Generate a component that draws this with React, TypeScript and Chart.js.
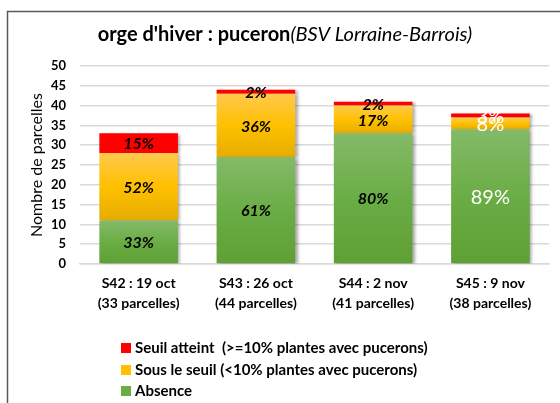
import { useEffect, useRef } from "react";
import { Chart, registerables } from "chart.js";
Chart.register(...registerables);

const categories = [
  ["S42 : 19 oct", "(33 parcelles)"],
  ["S43 : 26 oct", "(44 parcelles)"],
  ["S44 : 2 nov", "(41 parcelles)"],
  ["S45 : 9 nov", "(38 parcelles)"],
];
const absence = [11, 27, 33, 34];
const sousSeuil = [17, 16, 7, 3];
const seuilAtteint = [5, 1, 1, 1];
const absencePct = ["33%", "61%", "80%", "89%"];
const sousPct = ["52%", "36%", "17%", "8%"];
const seuilPct = ["15%", "2%", "2%", "3%"];
const legendLabels = [
  "Seuil atteint  (>=10% plantes avec pucerons)",
  "Sous le seuil (<10% plantes avec pucerons)",
  "Absence",
];
const titleBold = "orge d'hiver : puceron";
const titleItalic = "(BSV Lorraine-Barrois)";
const yTitle = "Nombre de parcelles";
const yMax = 50;
const yStep = 5;

const FONT = "Lato, 'Open Sans', sans-serif";
const WHITE_LABEL_INDEX = 3;

function gradientFill(stops: string[], flat: string) {
  return (ctx: any) => {
    const chart = ctx.chart;
    const ca = chart.chartArea;
    if (!ca || ctx.type !== "data") return flat;
    const yScale = chart.scales.y;
    const dsIndex = ctx.datasetIndex;
    let base = 0;
    for (let d = 0; d < dsIndex; d++) base += chart.data.datasets[d].data[ctx.dataIndex];
    const top = base + chart.data.datasets[dsIndex].data[ctx.dataIndex];
    const y0 = yScale.getPixelForValue(top);
    const y1 = yScale.getPixelForValue(base);
    if (!isFinite(y0) || !isFinite(y1) || y0 === y1) return flat;
    const g = chart.ctx.createLinearGradient(0, y0, 0, y1);
    g.addColorStop(0, stops[0]);
    g.addColorStop(0.5, stops[1]);
    g.addColorStop(1, stops[2]);
    return g;
  };
}

export default function App() {
  const ref = useRef<HTMLCanvasElement | null>(null);
  useEffect(() => {
    document.body.style.margin = "0";
    const canvas = ref.current!;
    const pctSets = [absencePct, sousPct, seuilPct];

    const decor = {
      id: "decor",
      beforeDraw(chart: any) {
        const c = chart.ctx;
        c.save();
        c.fillStyle = "#fff";
        c.fillRect(0, 0, chart.width, chart.height);
        c.strokeStyle = "#595959";
        c.lineWidth = 1.5;
        c.beginPath();
        c.moveTo(7.5, chart.height + 5);
        c.lineTo(7.5, 11.5);
        c.lineTo(chart.width + 5, 11.5);
        c.stroke();
        // title
        c.fillStyle = "#000";
        c.textBaseline = "middle";
        c.font = `bold 20px ${FONT}`;
        const w1 = c.measureText(titleBold).width;
        c.font = `italic 20px ${FONT}`;
        const w2 = c.measureText(titleItalic).width;
        const cx = 285;
        const x = cx - (w1 + w2) / 2;
        c.textAlign = "left";
        c.font = `bold 20px ${FONT}`;
        c.fillText(titleBold, x, 35);
        c.font = `italic 20px ${FONT}`;
        c.fillText(titleItalic, x + w1, 35);
        // y title
        c.save();
        c.translate(37, (chart.chartArea.top + chart.chartArea.bottom) / 2);
        c.rotate(-Math.PI / 2);
        c.textAlign = "center";
        c.font = `16px ${FONT}`;
        c.fillText(yTitle, 0, 0);
        c.restore();
        // legend
        const colors = ["#ff0000", "#ffc000", "#6aad45"];
        const ys = [348, 370, 391];
        c.font = `bold 15px ${FONT}`;
        c.textAlign = "left";
        for (let i = 0; i < 3; i++) {
          c.fillStyle = colors[i];
          c.fillRect(121, ys[i] - 5, 10, 10);
          c.fillStyle = "#000";
          c.fillText(legendLabels[i], 135, ys[i]);
        }
        c.restore();
      },
      beforeDatasetsDraw(chart: any) {
        const c = chart.ctx;
        c.save();
        c.shadowColor = "rgba(0,0,0,0.35)";
        c.shadowOffsetX = 2.5;
        c.shadowOffsetY = 1;
        c.shadowBlur = 3;
      },
      afterDatasetsDraw(chart: any) {
        const c = chart.ctx;
        c.restore();
        c.save();
        c.textAlign = "center";
        c.textBaseline = "middle";
        chart.data.datasets.forEach((ds: any, di: number) => {
          const meta = chart.getDatasetMeta(di);
          meta.data.forEach((el: any, i: number) => {
            const y = (el.y + el.base) / 2;
            if (i === WHITE_LABEL_INDEX) {
              c.fillStyle = "#fff";
              c.font = `20px ${FONT}`;
            } else {
              c.fillStyle = "#000";
              c.font = `italic bold 16px ${FONT}`;
            }
            c.fillText(pctSets[di][i], el.x, y + 1);
          });
        });
        c.restore();
      },
    };

    const chart = new Chart(canvas, {
      type: "bar",
      data: {
        labels: categories,
        datasets: [
          {
            label: legendLabels[2],
            data: absence,
            backgroundColor: gradientFill(["#84ba68", "#6aad45", "#5fa034"], "#6aad45"),
          },
          {
            label: legendLabels[1],
            data: sousSeuil,
            backgroundColor: gradientFill(["#ffc94d", "#ffc000", "#e6ad00"], "#ffc000"),
          },
          {
            label: legendLabels[0],
            data: seuilAtteint,
            backgroundColor: "#ff0000",
          },
        ],
      },
      plugins: [decor],
      options: {
        responsive: false,
        animation: false,
        devicePixelRatio: 1,
        layout: { padding: { left: 30, right: 11, top: 66, bottom: 89 } },
        plugins: {
          legend: { display: false },
          title: { display: false },
          tooltip: { enabled: false },
        },
        datasets: { bar: { categoryPercentage: 1, barPercentage: 0.67 } },
        scales: {
          x: {
            stacked: true,
            grid: { display: false, drawTicks: false },
            border: { display: true, color: "#d9d9d9", width: 1.5 },
            ticks: {
              color: "#000",
              font: { family: FONT, size: 14, weight: "bold", lineHeight: 1.4 },
              padding: 10,
            },
            afterFit: (s: any) => {
              s.height = 50;
            },
          },
          y: {
            stacked: true,
            min: 0,
            max: yMax,
            grid: { color: "#d9d9d9", lineWidth: 1.5, drawTicks: false },
            border: { display: false },
            ticks: {
              stepSize: yStep,
              color: "#000",
              font: { family: FONT, size: 13, weight: "bold" },
              padding: 14,
            },
            afterFit: (s: any) => {
              s.width = 50;
            },
          },
        },
      },
    });
    return () => chart.destroy();
  }, []);
  return <canvas ref={ref} width={560} height={403} style={{ display: "block" }} />;
}
